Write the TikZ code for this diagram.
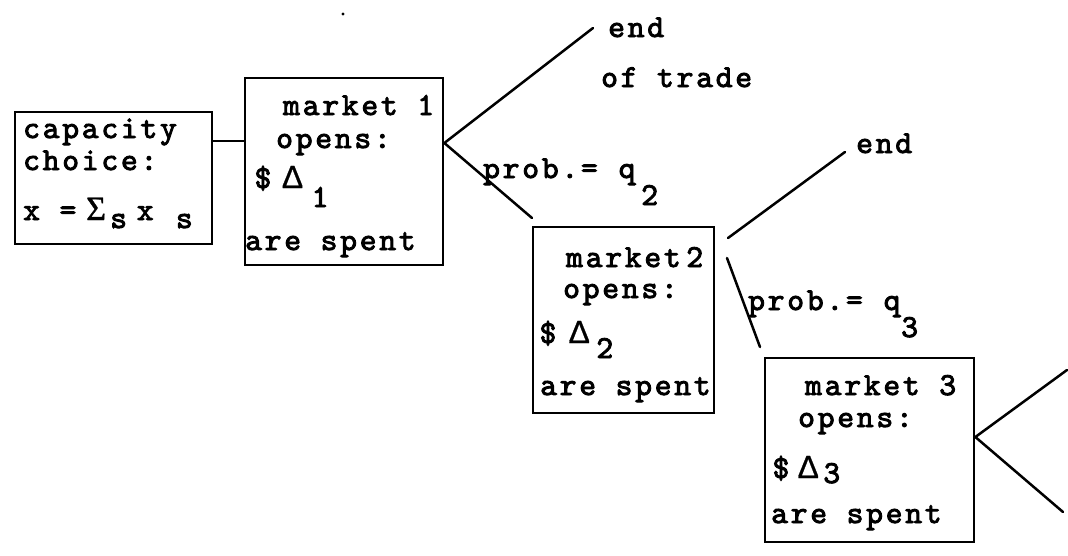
\documentclass[tikz,border=0pt]{standalone}
\usepackage{fontspec}
\newfontfamily\twfont{lmmono10-regular.otf}[LetterSpace=8.6, FakeBold=2.8]
\newfontfamily\grserif{Liberation Serif}[FakeBold=1.2]
\newfontfamily\grsans{Liberation Sans}[FakeBold=0.8]
\newlength{\advw}
\setlength{\advw}{19.55pt}
\tikzset{
  box/.style={draw, line width=2.7pt, inner sep=0pt},
  txt/.style={anchor=base west, inner sep=0pt, font=\twfont\fontsize{32}{38}\selectfont},
  branch/.style={line width=2.5pt, line cap=round}
}
% one character cell of the typewriter grid, lowered by #1 pt
\newcommand{\lowr}[2]{\raisebox{-#1pt}{\makebox[\advw][c]{#2}}}
\newcommand{\cell}[1]{\makebox[\advw][c]{#1}}
\newcommand{\Sig}{{\grserif\fontsize{34}{40}\selectfont Σ}}
\newcommand{\Del}{{\grsans\fontsize{32}{38}\selectfont Δ}}
\begin{document}
\begin{tikzpicture}[x=1pt,y=-1pt]
\useasboundingbox (0,0) rectangle (1068,555);

% decision and market boxes
\node[box, minimum width=197pt, minimum height=132pt] (cap) at (113.5,178) {};
\node[box, minimum width=198pt, minimum height=187pt] (m1) at (344,171.5) {};
\node[box, minimum width=181pt, minimum height=186pt] (m2) at (623.5,320) {};
\node[box, minimum width=209pt, minimum height=184pt] (m3) at (869.5,450) {};

% capacity choice
\node[txt] (cap1) at (23,138) {capacity};
\node[txt] (cap2) at (23,170) {choice:};
\node[txt] (cap3) at (23,220) {x =\hspace{10pt}\cell{\Sig}\hspace{3pt}\lowr{8}{s}\hspace{7pt}\cell{x} \lowr{8}{s}};

% market 1
\node[txt] (m1a) at (283,115) {market 1};
\node[txt] (m1b) at (276,148) {opens:};
\node[txt] (m1c) at (253,188) {\cell{\$}\hspace{10pt}\cell{\Del}\hspace{8pt}\lowr{19}{1}};
\node[txt] (m1d) at (245,250) {are spent};

% market 2
\node[txt] (m2a) at (566,267) {market\hspace{-14pt} 2};
\node[txt] (m2b) at (563,298) {opens:};
\node[txt] (m2c) at (538,343) {\cell{\$}\hspace{11.7pt}\cell{\Del}\hspace{6pt}\lowr{15}{2}};
\node[txt] (m2d) at (540,395) {are spent};

% market 3
\node[txt] (m3a) at (805,395) {market 3};
\node[txt] (m3b) at (798,427) {opens:};
\node[txt] (m3c) at (771,478) {\cell{\$}\hspace{7.7pt}\cell{\Del}\hspace{4pt}\lowr{5}{3}};
\node[txt] (m3d) at (771,523) {are spent};

% branch labels
\node[txt] (end1) at (608,37) {end};
\node[txt] (trade) at (601,87) {of trade};
\node[txt] (q2) at (483,178) {prob.= \cell{q}\hspace{3pt}\lowr{27}{2}};
\node[txt] (end2) at (856,153) {end};
\node[txt] (q3) at (748,310) {prob.= \cell{q}\hspace{-2pt}\lowr{27}{3}};

% branch points and free ends
\coordinate (f1) at (m1.east |- 0,143);
\coordinate (f3) at (m3.east |- 0,437);
\coordinate (u1) at (593,28);
\coordinate (d1) at (532,218);
\coordinate (s2u) at (728,238);
\coordinate (u2) at (845,152);
\coordinate (s2d) at (727,258);
\coordinate (d2) at (760,347);
\coordinate (u3) at (1067,370);
\coordinate (d3) at (1063,512);

% connectors
\draw[branch] (cap.east |- 0,141) -- (m1.west |- 0,141);
\draw[branch] (u1) -- (f1) -- (d1);
\draw[branch] (s2u) -- (u2);
\draw[branch] (s2d) -- (d2);
\draw[branch] (u3) -- (f3) -- (d3);

% speck above market 1
\fill (343,14) circle (1.6pt);
\end{tikzpicture}
\end{document}
